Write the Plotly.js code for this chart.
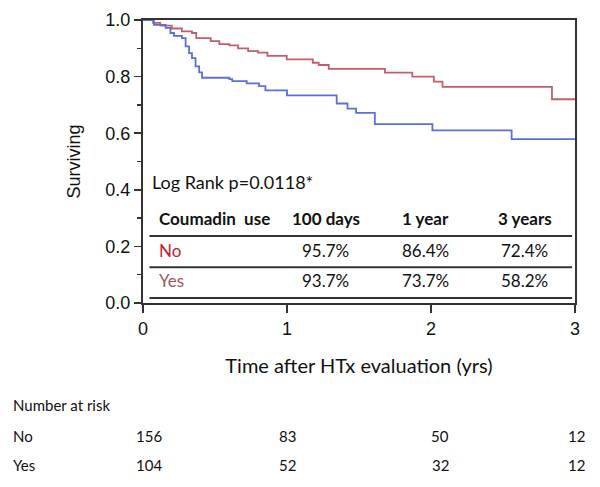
<!DOCTYPE html>
<html>
<head>
<meta charset="utf-8">
<script src="https://cdn.plot.ly/plotly-3.0.1.min.js"></script>
<style>html,body{margin:0;padding:0;background:#fff;}#chart{width:600px;height:487px;}</style>
</head>
<body>
<div id="chart"></div>
<script>
// Kaplan-Meier step data (time in years, survival proportion)
const timeNo = [0, 0.07, 0.12, 0.2, 0.27, 0.34, 0.37, 0.47, 0.53, 0.6, 0.66, 0.73, 0.80, 0.864, 0.998, 1.18, 1.22, 1.29, 1.68, 1.87, 2.02, 2.08, 2.84, 3.0];
const survNo = [1.0, 0.99, 0.98, 0.97, 0.96, 0.954, 0.936, 0.925, 0.915, 0.91, 0.90, 0.89, 0.885, 0.873, 0.861, 0.849, 0.841, 0.827, 0.814, 0.80, 0.782, 0.764, 0.72, 0.72];
const timeYes = [0, 0.076, 0.157, 0.19, 0.215, 0.27, 0.296, 0.32, 0.34, 0.365, 0.39, 0.41, 0.6, 0.62, 0.72, 0.806, 0.85, 1.0, 1.345, 1.42, 1.48, 1.61, 2.01, 2.56, 3.0];
const survYes = [1.0, 0.983, 0.972, 0.954, 0.944, 0.936, 0.907, 0.883, 0.865, 0.836, 0.815, 0.796, 0.791, 0.784, 0.776, 0.766, 0.751, 0.734, 0.705, 0.687, 0.672, 0.632, 0.61, 0.579, 0.579];

// Inset table
const tableHeader = ["Coumadin  use", "100 days", "1 year", "3 years"];
const tableGroups = ["No", "Yes"];
const tableNo = ["95.7%", "86.4%", "72.4%"];
const tableYes = ["93.7%", "73.7%", "58.2%"];
const logRankText = "Log Rank p=0.0118*";

// Number at risk
const riskTimes = [0, 1, 2, 3];
const riskNo = [156, 83, 50, 12];
const riskYes = [104, 52, 32, 12];

const xTicks = [0, 1, 2, 3];

const RED = '#c0606a', BLUE = '#5b6fd8';
const CAL = 'Lato, Carlito, "Open Sans", sans-serif';
const ARIAL = '"Liberation Sans", Arial, sans-serif';
const AX = '#333333';

const traces = [
  {x: timeNo, y: survNo, mode: 'lines', line: {shape: 'hv', color: RED, width: 1.8}, name: 'No', hoverinfo: 'skip'},
  {x: timeYes, y: survYes, mode: 'lines', line: {shape: 'hv', color: BLUE, width: 1.8}, name: 'Yes', hoverinfo: 'skip'}
];

const ann = [];
// Log rank text
ann.push({x: 0.05, y: 0.427, xref: 'x', yref: 'y', text: logRankText, showarrow: false, xanchor: 'left', yanchor: 'middle', font: {family: CAL, size: 18, color: '#111'}});
// table columns positions
const colX = [0.10, 1.27, 1.96, 2.65];
const rowY = [0.297, 0.184, 0.078];
tableHeader.forEach((h, i) => {
  ann.push({x: colX[i], y: rowY[0], xref: 'x', yref: 'y', text: '<b>' + h + '</b>', showarrow: false,
    xanchor: i === 0 ? 'left' : 'center', yanchor: 'middle', font: {family: CAL, size: 17, color: '#111'}});
});
const groupColors = ['#c0202c', '#a05462'];
[tableNo, tableYes].forEach((vals, r) => {
  ann.push({x: colX[0], y: rowY[r + 1], xref: 'x', yref: 'y', text: tableGroups[r], showarrow: false,
    xanchor: 'left', yanchor: 'middle', font: {family: CAL, size: 17, color: groupColors[r]}});
  vals.forEach((v, i) => {
    ann.push({x: colX[i + 1], y: rowY[r + 1], xref: 'x', yref: 'y', text: v, showarrow: false,
      xanchor: 'center', yanchor: 'middle', font: {family: CAL, size: 17, color: '#111'}});
  });
});
// Number at risk
const riskY = [-0.36, -0.47, -0.572];
ann.push({x: -0.306, y: riskY[0], xref: 'paper', yref: 'paper', text: 'Number at risk', showarrow: false,
  xanchor: 'left', yanchor: 'middle', font: {family: CAL, size: 15, color: '#111'}});
const riskShift = [6, 0, 9, 1];
[riskNo, riskYes].forEach((vals, r) => {
  ann.push({x: -0.306, y: riskY[r + 1], xref: 'paper', yref: 'paper', text: tableGroups[r], showarrow: false,
    xanchor: 'left', yanchor: 'middle', font: {family: CAL, size: 15, color: '#111'}});
  vals.forEach((v, i) => {
    ann.push({x: riskTimes[i], y: riskY[r + 1], xref: 'x', yref: 'paper', xshift: riskShift[i], text: String(v), showarrow: false,
      xanchor: 'center', yanchor: 'middle', font: {family: CAL, size: 15, color: '#111'}});
  });
});

const lineY = [0.237, 0.126, 0.018];
const shapes = lineY.map(y => ({type: 'line', xref: 'x', yref: 'y', x0: 0.045, x1: 2.98, y0: y, y1: y,
  line: {color: '#333333', width: 2}}));

const layout = {
  width: 600, height: 487,
  margin: {l: 142.5, r: 25, t: 20, b: 184},
  paper_bgcolor: '#fff', plot_bgcolor: '#fff',
  showlegend: false,
  xaxis: {
    range: [0, 3], tickvals: xTicks, ticktext: xTicks.map(String),
    ticks: 'outside', ticklen: 8, tickwidth: 1.5, tickcolor: AX,
    showline: true, linecolor: AX, linewidth: 2, mirror: true,
    showgrid: false, zeroline: false,
    tickfont: {family: ARIAL, size: 18, color: '#111'},
    title: {text: 'Time after HTx evaluation (yrs)', font: {family: CAL, size: 20, color: '#111'}, standoff: 21}
  },
  yaxis: {
    range: [0, 1], tickvals: [0, 0.2, 0.4, 0.6, 0.8, 1.0], tickformat: '.1f',
    ticks: 'outside', ticklen: 7, tickwidth: 1.5, tickcolor: AX,
    minor: {tickvals: [0.1, 0.3, 0.5, 0.7, 0.9], ticks: 'outside', ticklen: 4, tickwidth: 1.5, tickcolor: AX, showgrid: false},
    showline: true, linecolor: AX, linewidth: 2, mirror: true,
    showgrid: false, zeroline: false,
    tickfont: {family: ARIAL, size: 18, color: '#111'},
    title: {text: 'Surviving', font: {family: ARIAL, size: 18, color: '#111'}, standoff: 20}
  },
  annotations: ann,
  shapes: shapes
};

Plotly.newPlot('chart', traces, layout, {staticPlot: true, displayModeBar: false});
</script>
</body>
</html>
